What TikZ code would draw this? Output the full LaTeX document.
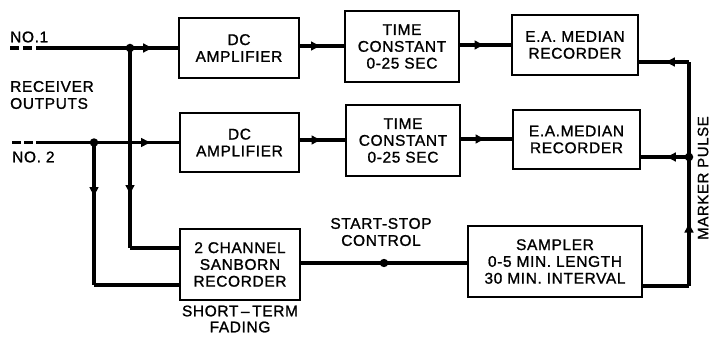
\documentclass[tikz,border=0pt]{standalone}
\usepackage{fontspec}
\setmainfont{Liberation Sans}[LetterSpace=4, FakeBold=1.2]
\usetikzlibrary{arrows.meta,decorations.markings}
\tikzset{
  blk/.style={draw, line width=1.2pt, align=center, inner sep=0pt,
    font=\fontsize{15.5}{16.8}\selectfont},
  lbl/.style={align=center, inner sep=0pt, font=\fontsize{15.5}{17}\selectfont},
  wire/.style={line width=3.3pt},
  midarrow/.style={postaction={decorate}, decoration={markings,
    mark=at position #1 with {\arrow{Latex[length=11pt,width=10pt]}}}},
  midarrow/.default=0.5,
  middot/.style={postaction={decorate}, decoration={markings,
    mark=at position #1 with {\fill (0,0) circle (4.2pt);}}},
  middot/.default=0.5,
  jdot/.style={circle, fill, inner sep=0pt, minimum size=8.5pt}
}
\begin{document}
\begin{tikzpicture}[x=1pt,y=-1pt]
\useasboundingbox (0,0) rectangle (713,337);
% boxes
\node[blk, minimum width=120pt, minimum height=60pt] (dc1) at (239,48) {DC\\AMPLIFIER};
\node[blk, minimum width=119pt, minimum height=59pt] (dc2) at (239.5,142.5) {DC\\AMPLIFIER};
\node[blk, minimum width=114pt, minimum height=71pt] (tc1) at (402,46.5) {TIME\\CONSTANT\\0-25 SEC};
\node[blk, minimum width=114pt, minimum height=71pt] (tc2) at (403,140.5) {TIME\\CONSTANT\\0-25 SEC};
\node[blk, minimum width=126pt, minimum height=60pt] (ea1) at (575,45) {E.A. MEDIAN\\RECORDER};
\node[blk, minimum width=127pt, minimum height=59pt] (ea2) at (576.5,139.5) {E.A.MEDIAN\\RECORDER};
\node[blk, minimum width=120pt, minimum height=71pt] (sb) at (240,264.5) {2 CHANNEL\\SANBORN\\RECORDER};
\node[blk, minimum width=174pt, minimum height=71pt] (sm) at (555,261.5) {SAMPLER\\0-5 MIN. LENGTH\\30 MIN. INTERVAL};
% labels
\node[lbl, anchor=west] (no1) at (10,37) {NO.1};
\node[lbl, anchor=west] (no2) at (12,157) {NO. 2};
\node[lbl, anchor=west, align=left] (rec) at (10,95) {RECEIVER\\OUTPUTS};
\node[lbl, font=\fontsize{15.5}{16}\selectfont] (stf) at (240,319) {SHORT\,--\,TERM\\FADING};
\node[lbl] (ssc) at (381,232) {START-STOP\\CONTROL};
\node[lbl, rotate=90, font=\fontsize{15}{17}\selectfont] (mkp) at (703,178) {MARKER PULSE};
% coordinates
\coordinate (in1) at (38,48);
\coordinate (j1) at (130,48);
\coordinate (in2) at (37,142.5);
\coordinate (j2) at (94,142.5);
\coordinate (c1) at (130,248);
\coordinate (c2) at (94,285);
\coordinate (m1) at (689,62);
\coordinate (m2) at (689,157);
\coordinate (b1) at (689,286);
\coordinate (d1a) at (10,48);
\coordinate (d2a) at (12,142.5);
% dashed input stubs
\draw[wire, dash pattern=on 9pt off 4pt] (d1a) -- (in1);
\draw[wire, dash pattern=on 9pt off 3pt] (d2a) -- (in2);
% input lines
\draw[wire] (in1) -- (j1);
\draw[wire, midarrow=0.5] (j1) -- (dc1.west);
\draw[wire] (in2) -- (j2);
\draw[wire, midarrow=0.68] (j2) -- (dc2.west);
\node[jdot] (jd1) at (j1) {};
\node[jdot] (jd2) at (j2) {};
% branches to sanborn
\draw[wire, midarrow=0.74] (j1) -- (c1);
\draw[wire] (c1) -- (c1 -| sb.west);
\draw[wire, midarrow=0.39] (j2) -- (c2);
\draw[wire] (c2) -- (c2 -| sb.west);
% chain
\draw[wire, midarrow=0.5] (dc1.east |- 0,46) -- (tc1.west |- 0,46);
\draw[wire, midarrow=0.5] (tc1.east |- 0,45) -- (ea1.west |- 0,45);
\draw[wire, midarrow=0.5] (dc2.east |- 0,140) -- (tc2.west |- 0,140);
\draw[wire, midarrow=0.5] (tc2.east |- 0,139) -- (ea2.west |- 0,139);
% marker pulse
\draw[wire] (b1 -| sm.east) -- (b1);
\draw[wire, midarrow=0.5] (b1) -- (m2);
\draw[wire] (m2) -- (m1);
\draw[wire, midarrow=0.5] (m1) -- (m1 -| ea1.east);
\draw[wire, midarrow=0.5] (m2) -- (m2 -| ea2.east);
\node[jdot] (md) at (m2) {};
% start-stop
\draw[wire, middot=0.5] (sb.east |- 0,263) -- (sm.west |- 0,263);
\end{tikzpicture}
\end{document}
